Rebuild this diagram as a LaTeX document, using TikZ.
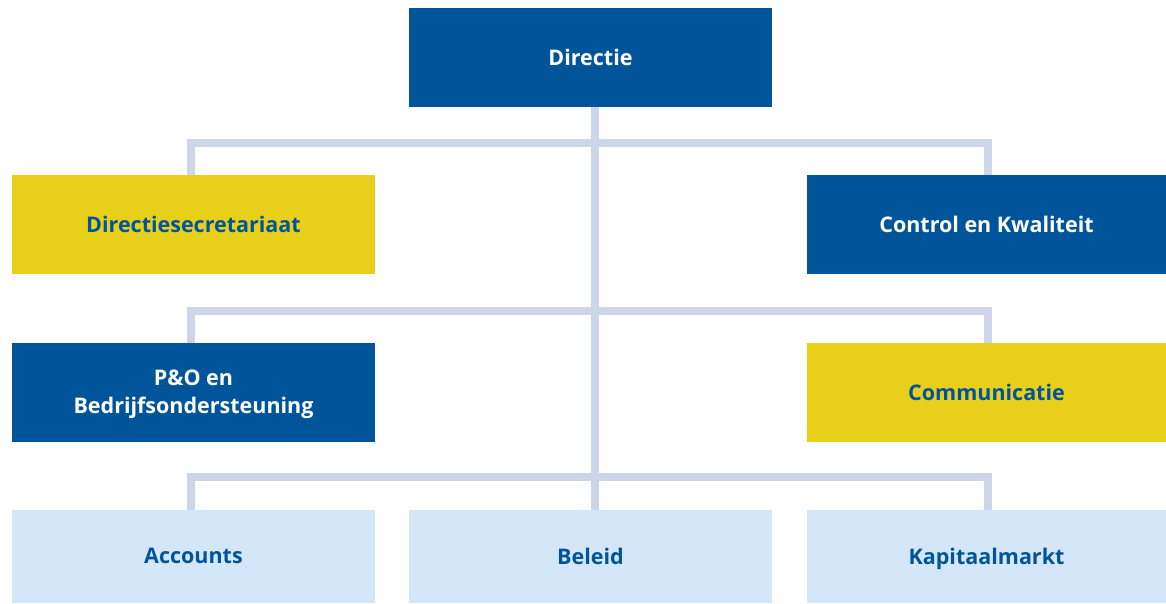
\documentclass[tikz,border=0pt]{standalone}
\usepackage{fontspec}
\setmainfont{Open Sans}
\usetikzlibrary{positioning}

\definecolor{orgblue}{HTML}{00559A}
\definecolor{orgyellow}{HTML}{E8CF1A}
\definecolor{orglight}{HTML}{D4E7F8}
\definecolor{orgline}{HTML}{CDD6E9}

\tikzset{
  unit/.style={rectangle, inner sep=0, minimum width=363, minimum height=99,
    align=center, text depth=0.25ex, font=\fontsize{21.5}{28}\selectfont\bfseries},
  darkunit/.style={unit, fill=orgblue, text=white},
  yellowunit/.style={unit, fill=orgyellow, text=orgblue},
  lightunit/.style={unit, fill=orglight, text=orgblue, minimum height=93},
  link/.style={orgline, line width=8}
}

\begin{document}
\begin{tikzpicture}[x=1pt, y=-1pt]
\useasboundingbox (0,0) rectangle (1166,603);
\coordinate (trunk) at (595,0);

\node[darkunit] (dir) at (590.5,57.5) {Directie};
\node[yellowunit] (sec) at (193.5,224.5) {Directiesecretariaat};
\node[darkunit, minimum width=359] (ctrl) at (986.5,224.5) {Control en Kwaliteit};
\node[darkunit] (po) at (193.5,392.5) {P\&O en\\Bedrijfsondersteuning};
\node[yellowunit, minimum width=359] (comm) at (986.5,392.5) {Communicatie};
\node[lightunit] (acc) at (193.5,556.5) {Accounts};
\node[lightunit] (bel) at (590.5,556.5) {Beleid};
\node[lightunit, minimum width=359] (kap) at (986.5,556.5) {Kapitaalmarkt};

% connectors
\draw[link] (dir.south -| trunk) -- (bel.north -| trunk);
\draw[link] ([xshift=-2.5]sec.north) |- (595,143) -| ([xshift=1]ctrl.north);
\draw[link] ([xshift=-2.5]po.north) |- (595,311) -| ([xshift=1]comm.north);
\draw[link] ([xshift=-2.5]acc.north) |- (595,477) -| ([xshift=1]kap.north);
\end{tikzpicture}
\end{document}
